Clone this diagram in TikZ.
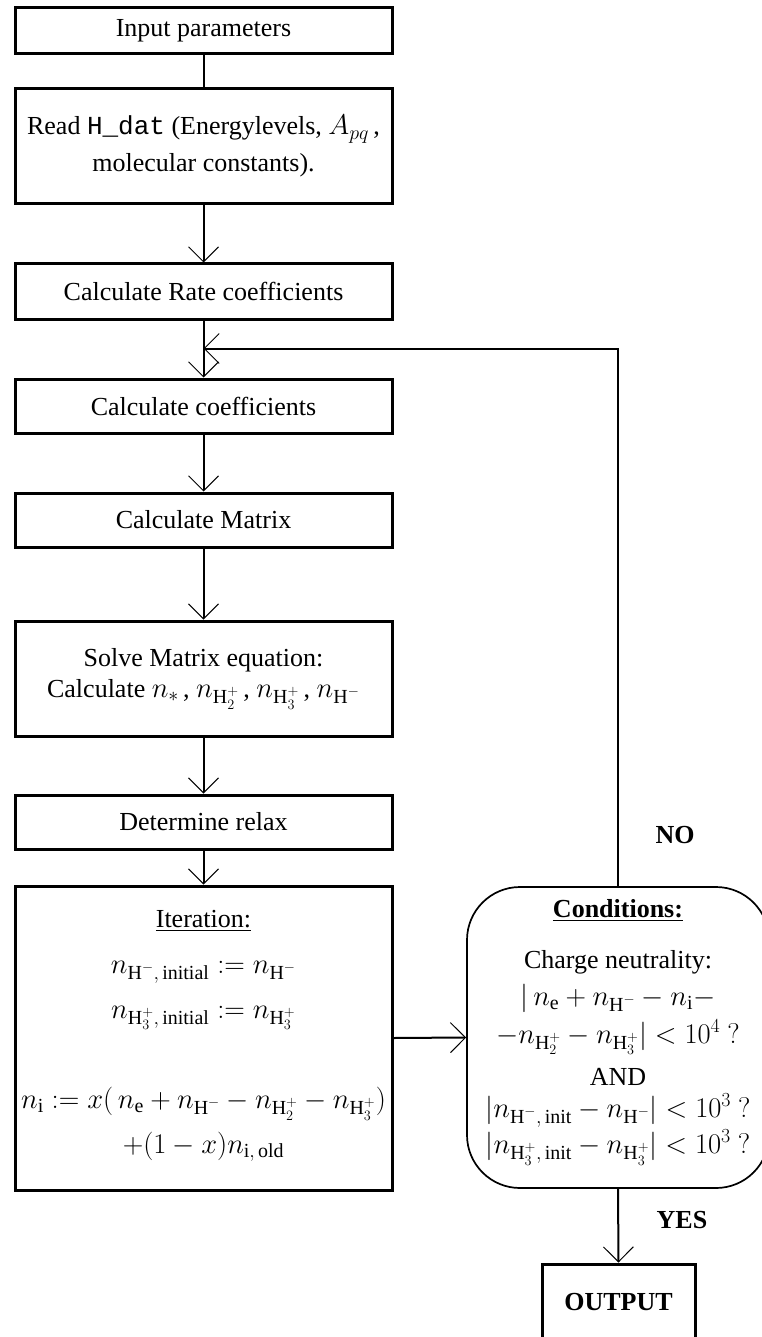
\RequirePackage{fix-cm}
\documentclass[tikz,border=0pt]{standalone}
\usepackage{amsmath}
\usepackage{fontspec}
\setmainfont{Liberation Serif}
\setmonofont{Liberation Mono}
\usetikzlibrary{arrows.meta,calc}
\newcommand\bigfs{\fontsize{26}{37}\selectfont}
\newcommand\mathfs{\fontsize{28.5}{37}\selectfont}
\newcommand\mm[1]{{\mathfs$#1$}}
\begin{document}
\begin{tikzpicture}[x=1pt,y=-1pt,
  box/.style={draw, line width=3pt, minimum width=377pt, inner sep=0pt, align=center, font=\bigfs},
  conn/.style={line width=2pt, -{Straight Barb[length=15pt,width=30pt,line width=1pt]}},
  plain/.style={line width=2pt},
  txt/.style={anchor=base, inner sep=0pt, font=\bigfs},
  mtxt/.style={anchor=base, inner sep=0pt, font=\mathfs},
  lbl/.style={inner sep=0pt, font=\bigfs\bfseries}
]
\useasboundingbox (0,0) rectangle (761,1337);

\node[box, minimum height=46pt]  (inp)   at (203.5,31)    {Input parameters};
\node[box, minimum height=115pt] (read)  at (203.5,146.5) {Read \texttt{H\_dat} (Energylevels, \mm{A_{pq}}\,,\\ molecular constants).};
\node[box, minimum height=55pt]  (rate)  at (203.5,291.5) {Calculate Rate coefficients};
\node[box, minimum height=54pt]  (coef)  at (203.5,406)   {Calculate coefficients};
\node[box, minimum height=54pt]  (mat)   at (203.5,520)   {Calculate Matrix};
\node[box, minimum height=115pt] (solve) at (203.5,678.5) {Solve Matrix equation:\\[-6pt] Calculate \mm{n_*}\,, \mm{n_{\text{H}_2^+}}\,, \mm{n_{\text{H}_3^+}}\,, \mm{n_{\text{H}^-}}};
\node[box, minimum height=54pt]  (relax) at (203.5,822)   {Determine relax};
\node[box, minimum height=304pt] (iter)  at (203.5,1038)  {};

\node[txt] (it0) at (203.5,927)  {\underline{Iteration:}};
\node[mtxt] (it1) at (203.5,973)  {$n_{\text{H}^-,\,\text{initial}} := n_{\text{H}^-}$};
\node[mtxt] (it2) at (203.5,1018) {$n_{\text{H}_3^+,\,\text{initial}} := n_{\text{H}_3^+}$};
\node[mtxt] (it3) at (203.5,1108) {$n_{\text{i}} := x(\,n_{\text{e}} + n_{\text{H}^-} - n_{\text{H}_2^+} - n_{\text{H}_3^+})$};
\node[mtxt] (it4) at (203.5,1153) {$+(1-x)n_{\text{i},\,\text{old}}$};

\node[draw, line width=1.7pt, rounded corners=53pt, minimum width=302pt, minimum height=301pt, inner sep=0pt] (cond) at (618,1037.5) {};
\node[txt] (c0) at (618,917)  {\textbf{\underline{Conditions:}}};
\node[txt] (c1) at (618,968)  {Charge neutrality:};
\node[mtxt] (c2) at (618,1005) {$|\,n_{\text{e}} + n_{\text{H}^-} - n_{\text{i}} -$};
\node[mtxt] (c3) at (618,1043) {$-n_{\text{H}_2^+} - n_{\text{H}_3^+}| < 10^4\ ?$};
\node[txt] (c4) at (618,1085) {AND};
\node[mtxt] (c5) at (618,1117) {$|n_{\text{H}^-,\,\text{init}} - n_{\text{H}^-}| < 10^3\ ?$};
\node[mtxt] (c6) at (618,1153) {$|n_{\text{H}_3^+,\,\text{init}} - n_{\text{H}_3^+}| < 10^3\ ?$};

\node[draw, line width=3pt, minimum width=153pt, minimum height=100pt, inner sep=0pt] (out) at (618.5,1314) {};
\node[lbl] (outt) at (618.5,1302) {OUTPUT};

\node[lbl] (no)  at (675,835)  {NO};
\node[lbl] (yes) at (682,1220) {YES};

\coordinate (loop) at ($(rate.south)+(0,28)$);

\draw[plain] (inp.south) -- (read.north);
\draw[conn] (read.south) -- (rate.north);
\draw[conn] (rate.south) -- (coef.north);
\draw[conn] (cond.north) |- (loop);
\draw[conn] (coef.south) -- (mat.north);
\draw[conn] (mat.south) -- (solve.north);
\draw[conn] (solve.south) -- (relax.north);
\draw[conn] (relax.south) -- (iter.north);
\draw[conn] (iter.east) -- (cond.west);
\draw[conn] (cond.south) -- (out.north);
\end{tikzpicture}
\end{document}
